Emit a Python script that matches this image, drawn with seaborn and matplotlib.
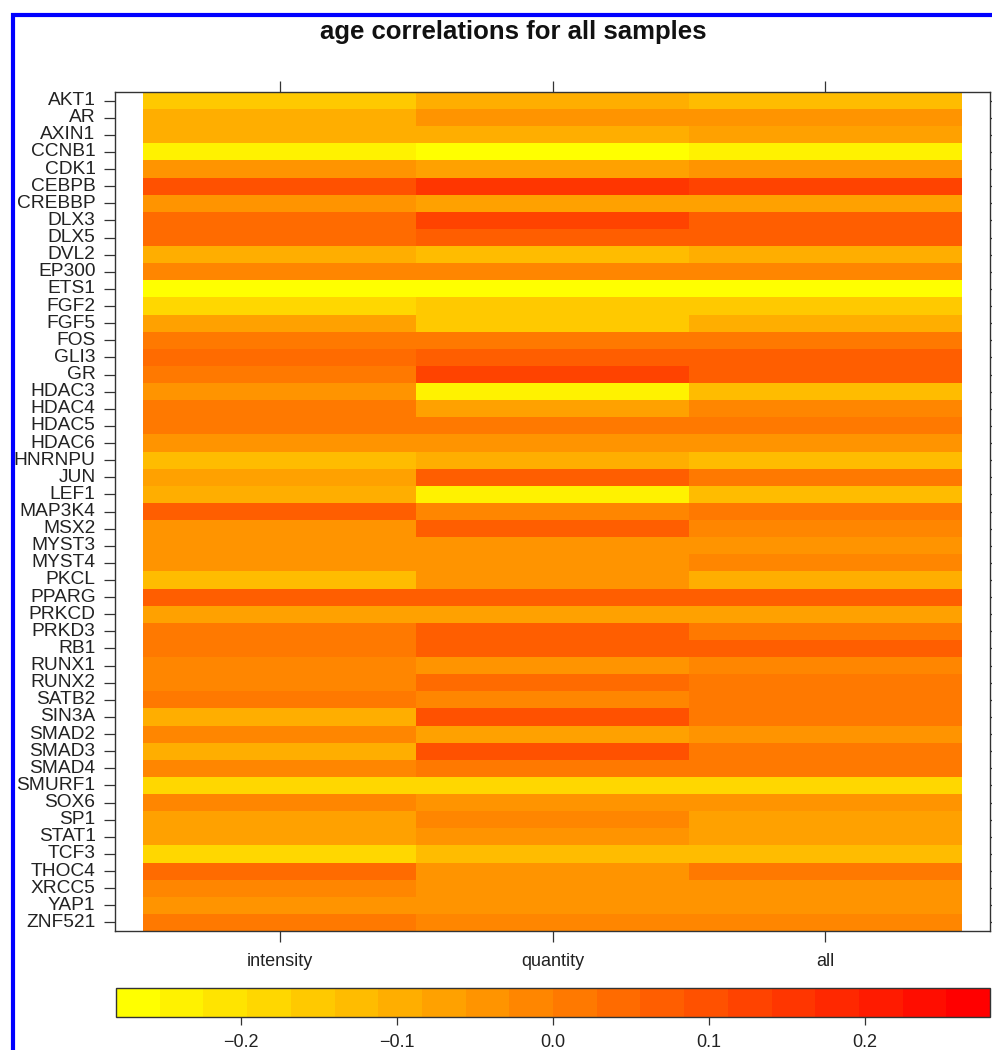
import numpy as np
import pandas as pd
import matplotlib
matplotlib.use("Agg")
import matplotlib.pyplot as plt
import seaborn as sns
from matplotlib.colors import ListedColormap, hsv_to_rgb
from matplotlib.patches import Rectangle

genes = ["AKT1", "AR", "AXIN1", "CCNB1", "CDK1", "CEBPB", "CREBBP", "DLX3", "DLX5",
         "DVL2", "EP300", "ETS1", "FGF2", "FGF5", "FOS", "GLI3", "GR", "HDAC3", "HDAC4",
         "HDAC5", "HDAC6", "HNRNPU", "JUN", "LEF1", "MAP3K4", "MSX2", "MYST3", "MYST4",
         "PKCL", "PPARG", "PRKCD", "PRKD3", "RB1", "RUNX1", "RUNX2", "SATB2", "SIN3A",
         "SMAD2", "SMAD3", "SMAD4", "SMURF1", "SOX6", "SP1", "STAT1", "TCF3", "THOC4",
         "XRCC5", "YAP1", "ZNF521"]

columns = ["intensity", "quantity", "all"]

intensity = [-0.15, -0.10, -0.10, -0.24, -0.04, 0.10, -0.04, 0.04, 0.04,
             -0.10, -0.01, -0.27, -0.18, -0.07, 0.014, 0.04, 0.014, -0.04, 0.014,
             0.014, -0.04, -0.13, -0.07, -0.10, 0.07, -0.03, -0.04, -0.03,
             -0.13, 0.06, -0.07, 0.014, 0.02, -0.01, -0.01, 0.01, -0.09,
             -0.01, -0.09, -0.01, -0.18, -0.02, -0.07, -0.08, -0.18, 0.04,
             -0.02, -0.04, 0.00]

quantity = [-0.10, -0.04, -0.10, -0.27, -0.08, 0.154, -0.07, 0.126, 0.07,
            -0.13, -0.01, -0.27, -0.15, -0.15, 0.014, 0.08, 0.126, -0.24, -0.07,
            0.014, -0.04, -0.10, 0.07, -0.24, -0.01, 0.07, -0.04, -0.04,
            -0.04, 0.07, -0.07, 0.07, 0.07, -0.04, 0.04, -0.01, 0.09,
            -0.07, 0.09, 0.01, -0.18, -0.03, -0.02, -0.04, -0.13, -0.03,
            -0.04, -0.04, -0.01]

all_samples = [-0.13, -0.05, -0.07, -0.24, -0.04, 0.126, -0.07, 0.07, 0.07,
               -0.11, -0.01, -0.27, -0.15, -0.10, 0.005, 0.07, 0.07, -0.13, -0.01,
               0.014, -0.04, -0.13, 0.014, -0.13, 0.014, -0.01, -0.04, -0.02,
               -0.10, 0.07, -0.07, 0.02, 0.065, -0.01, 0.014, 0.01, 0.014,
               -0.04, 0.005, 0.01, -0.18, -0.03, -0.07, -0.07, -0.14, 0.014,
               -0.04, -0.04, -0.01]

cbar_ticks = [-0.2, -0.1, 0.0, 0.1, 0.2]
cbar_ticklabels = ["\u22120.2", "\u22120.1", "0.0", "0.1", "0.2"]

title = "age correlations for all samples"

# colormap: 20 steps from yellow to red
n_levels = 20
hues = np.linspace(1 / 6, 0, n_levels)
cols = hsv_to_rgb(np.stack([hues, np.ones(n_levels), np.ones(n_levels)], axis=1))
cmap = ListedColormap(cols)

df = pd.DataFrame({"intensity": intensity, "quantity": quantity, "all": all_samples},
                  index=genes)[columns]

plt.rcParams["font.family"] = ["Liberation Sans", "DejaVu Sans"]

W, H = 992, 1050
fig = plt.figure(figsize=(W / 100, H / 100), dpi=100)

ax = fig.add_axes([115 / W, 1 - 931 / H, 875 / W, 839 / H])
cax = fig.add_axes([116 / W, 1 - 1017 / H, 874 / W, 29 / H])

sns.heatmap(df, ax=ax, cmap=cmap, vmin=-0.28, vmax=0.28, cbar_ax=cax,
            cbar_kws={"orientation": "horizontal", "ticks": cbar_ticks})

ax.set_xlim(-0.1026, 3.1026)
ax.set_ylim(len(genes), 0)
ax.set_xlabel("")
ax.set_ylabel("")
for s in ax.spines.values():
    s.set_visible(True)
    s.set_color("#333333")
    s.set_linewidth(1.0)

ax.set_yticks(np.arange(len(genes)) + 0.5)
ax.set_yticklabels(genes, rotation=0, fontsize=13.8, color="#222222")
ax.set_xticks(np.arange(len(columns)) + 0.5)
ax.set_xticklabels(columns, rotation=0, fontsize=13, color="#222222")
ax.tick_params(axis="both", direction="out", length=8, width=0.9, color="#333333", pad=4)
ax.tick_params(axis="x", top=True, bottom=True, labeltop=False, labelbottom=True, pad=8)
ax.tick_params(axis="y", left=True, right=True, labelleft=True, labelright=False, pad=6)

cbar = ax.collections[0].colorbar
cbar.set_ticks(cbar_ticks)
cbar.set_ticklabels(cbar_ticklabels)
cbar.ax.tick_params(axis="x", direction="out", length=6, width=0.9, color="#333333",
                    labelsize=13, labelcolor="#222222", pad=6)
cbar.outline.set_edgecolor("#333333")
cbar.outline.set_linewidth(1.0)

fig.text(513 / W, 1 - 32 / H, title, ha="center", va="center",
         fontsize=18.5, fontweight="bold", color="#111111")

# blue frame (cut at right and bottom)
fig.patches.append(Rectangle((12.5 / W, -0.05), 1.2, 1 - 14.5 / H + 0.05,
                             transform=fig.transFigure, fill=False,
                             edgecolor="#0000ff", linewidth=3.0, zorder=10))

fig.savefig("out.png", dpi=100)
